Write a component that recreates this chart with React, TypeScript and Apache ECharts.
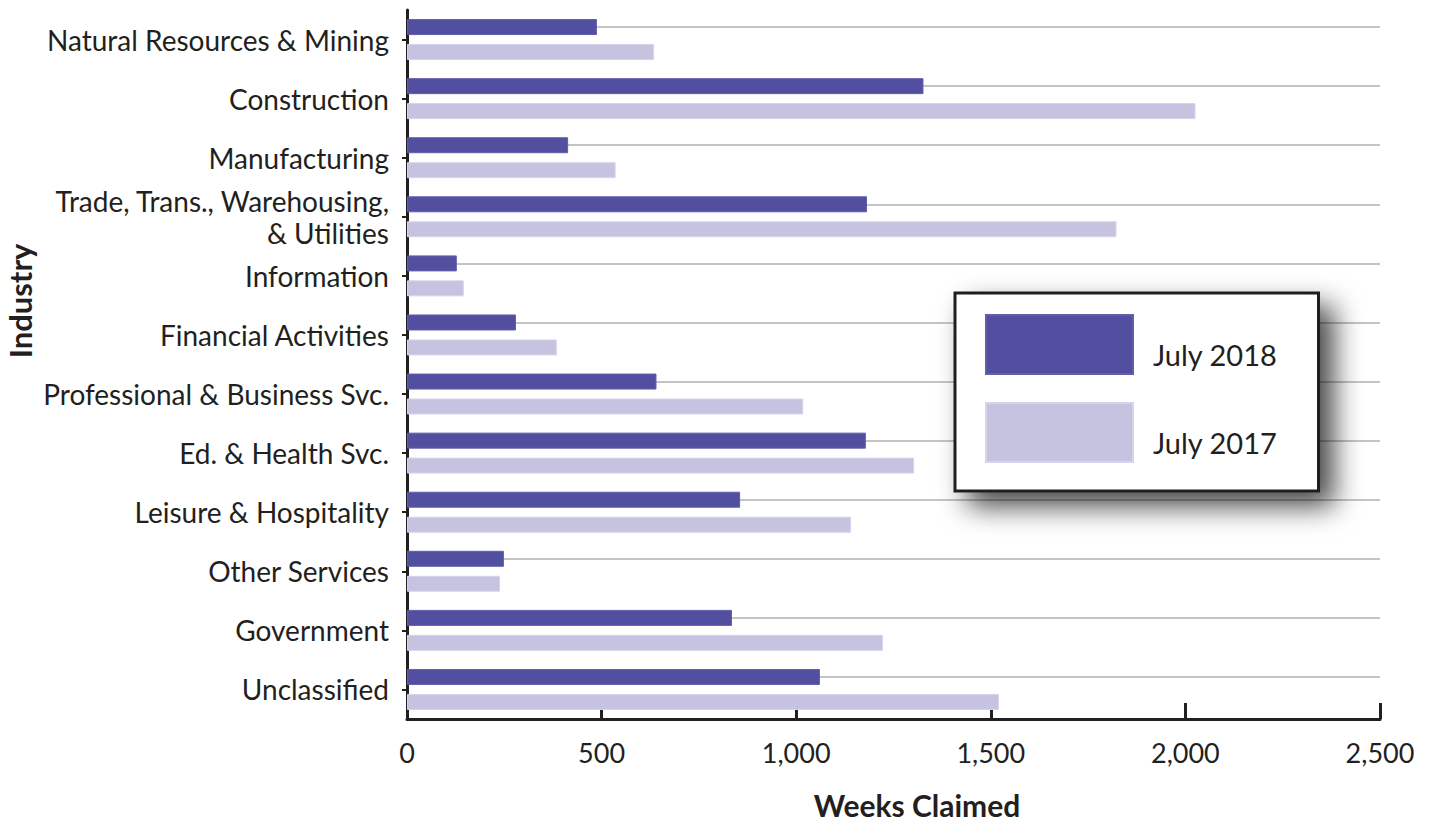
import React, { useEffect, useRef } from "react";
import * as echarts from "echarts";

const categories = [
  "Natural Resources & Mining",
  "Construction",
  "Manufacturing",
  "Trade, Trans., Warehousing,\n& Utilities",
  "Information",
  "Financial Activities",
  "Professional & Business Svc.",
  "Ed. & Health Svc.",
  "Leisure & Hospitality",
  "Other Services",
  "Government",
  "Unclassified",
];
const seriesNames = ["July 2018", "July 2017"];
const july2018 = [488, 1327, 414, 1182, 128, 280, 641, 1179, 856, 249, 835, 1061];
const july2017 = [635, 2026, 536, 1823, 146, 385, 1018, 1303, 1141, 239, 1223, 1521];
const xTicks = { min: 0, max: 2500, interval: 500 };

const FONT = "Lato, 'Open Sans', sans-serif";
const TEXT = "#231f20";

export default function App() {
  const ref = useRef<HTMLDivElement>(null);
  useEffect(() => {
    document.body.style.margin = "0";
    if (!ref.current) return;
    const chart = echarts.init(ref.current, null, { renderer: "svg" });
    const option: any = {
      animation: false,
      textStyle: { fontFamily: FONT },
      grid: { left: 407, right: 52, top: 10, bottom: 104, containLabel: false },
      xAxis: {
        type: "value",
        min: xTicks.min,
        max: xTicks.max,
        interval: xTicks.interval,
        axisLine: { show: true, lineStyle: { color: TEXT, width: 3 } },
        axisTick: { show: true, inside: true, length: 16, lineStyle: { color: TEXT, width: 3 } },
        axisLabel: {
          color: TEXT,
          fontSize: 27,
          fontFamily: FONT,
          margin: 20,
          formatter: (v: number) => v.toLocaleString("en-US"),
        },
        splitLine: { show: false },
      },
      yAxis: {
        type: "category",
        data: categories,
        inverse: true,
        axisLine: { show: true, lineStyle: { color: TEXT, width: 3 } },
        axisTick: { show: true, alignWithLabel: true, length: 5, lineStyle: { color: TEXT, width: 2 } },
        axisLabel: {
          color: TEXT,
          fontSize: 28,
          fontFamily: FONT,
          margin: 18,
          lineHeight: 32,
        },
        splitLine: { show: false },
      },
      legend: {
        orient: "vertical",
        left: 955,
        top: 293,
        z: 10,
        padding: [21, 41, 28, 30],
        itemGap: 27,
        itemWidth: 147,
        itemHeight: 59,
        icon: "rect",
        backgroundColor: "#ffffff",
        borderColor: TEXT,
        borderWidth: 3,
        borderRadius: 0,
        shadowBlur: 28,
        shadowColor: "rgba(0,0,0,0.72)",
        shadowOffsetX: 14,
        shadowOffsetY: 14,
        selectedMode: false,
        data: seriesNames,
        formatter: (name: string) => `{t|${name}}`,
        textStyle: {
          fontSize: 29,
          color: TEXT,
          fontFamily: FONT,
          rich: {
            t: { fontSize: 29, color: TEXT, fontFamily: FONT, padding: [20, 0, 0, 15] },
          },
        },
      },
      series: [
        {
          name: seriesNames[0],
          type: "bar",
          data: july2018,
          barWidth: 16,
          barGap: "56%",
          itemStyle: { color: "#524fa0", borderColor: "#615eab", borderWidth: 1 },
          markLine: {
            silent: true,
            z: 1,
            symbol: ["none", "none"],
            label: { show: false },
            lineStyle: { color: "#c4c4c4", width: 2, type: "solid" },
            emphasis: { disabled: true },
            data: categories.map((c) => ({ yAxis: c })),
          },
        },
        {
          name: seriesNames[1],
          type: "bar",
          data: july2017,
          barWidth: 16,
          itemStyle: { color: "#c6c3e1", borderColor: "#d6d4ec", borderWidth: 1 },
        },
      ],
      graphic: [
        {
          type: "text",
          x: 20,
          y: 301,
          rotation: Math.PI / 2,
          style: {
            text: "Industry",
            fill: TEXT,
            font: `bold 31px ${FONT}`,
            align: "center",
            verticalAlign: "middle",
          },
        },
        {
          type: "text",
          x: 917,
          y: 805,
          style: {
            text: "Weeks Claimed",
            fill: TEXT,
            font: `bold 30px ${FONT}`,
            align: "center",
            verticalAlign: "middle",
          },
        },
      ],
    };
    chart.setOption(option);
    return () => chart.dispose();
  }, []);
  return <div ref={ref} style={{ width: 1432, height: 823 }} />;
}
